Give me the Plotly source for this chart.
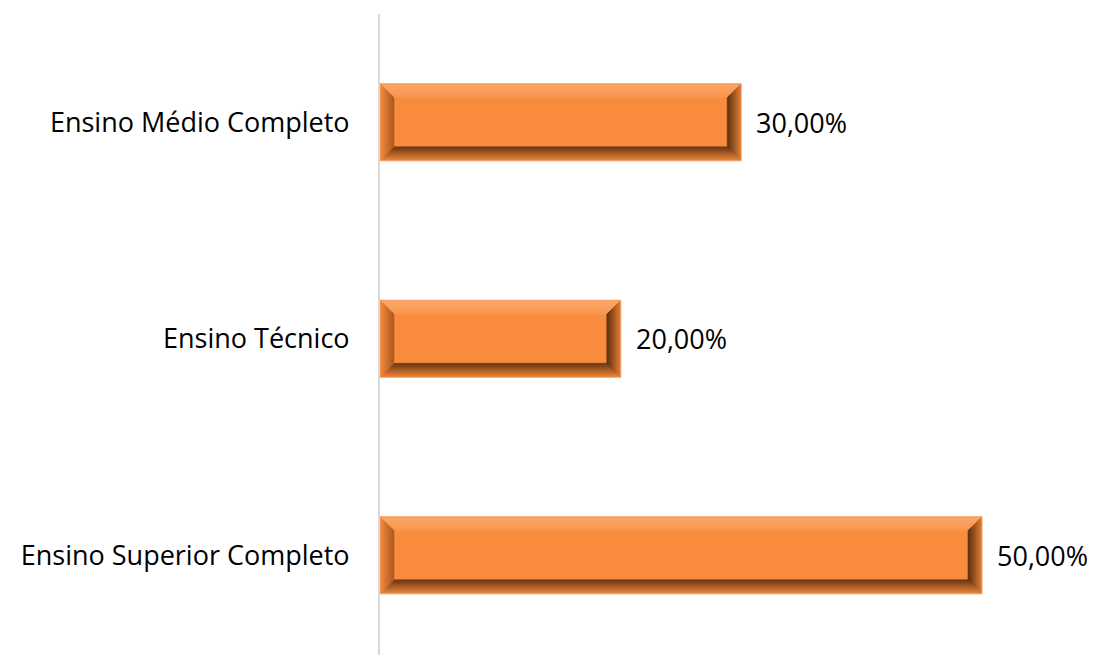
import plotly.graph_objects as go

# ---- data ----
categories = ["Ensino Médio Completo", "Ensino Técnico", "Ensino Superior Completo"]
values = [30.0, 20.0, 50.0]
value_labels = ["30,00%", "20,00%", "50,00%"]

# ---- layout constants (page body has an 8px margin) ----
W, H = 1089, 647
ML, MR, MT, MB = 372, 9, 6, 0
plotW = W - ML - MR
plotH = H - MT - MB
XMAX = plotW / 12.04
Y_RANGE = [-0.5 + plotH / 216.5, -0.5]
BAR_W = 0.356

kx = XMAX / plotW                         # data units per pixel (x)
ky = (Y_RANGE[0] - Y_RANGE[1]) / plotH    # data units per pixel (y)

FONT = "Open Sans, sans-serif"
FSIZE = 27
BASE = "#F98B3D"
BORDER = "#F6A468"
BEVEL = 14
STEPS = 7
side_colors = {
    "top": ("#FBAA6A", "#F99550"),
    "left": ("#F3883C", "#A9591F"),
    "bottom": ("#E98539", "#6A3512"),
    "right": ("#E07C35", "#5A2E0F"),
}


def hex2rgb(h):
    h = h.lstrip("#")
    return tuple(int(h[i:i + 2], 16) for i in (0, 2, 4))


def mix(c1, c2, t):
    a, b = hex2rgb(c1), hex2rgb(c2)
    return "rgb(%d,%d,%d)" % tuple(round(a[i] + (b[i] - a[i]) * t) for i in range(3))


ypos = list(range(len(categories)))

fig = go.Figure()
fig.add_trace(go.Bar(
    y=ypos, x=values, orientation="h", width=BAR_W,
    marker=dict(color=BASE, line=dict(color=BORDER, width=1)),
    hoverinfo="skip", showlegend=False,
))

shapes = []
for yi, v in zip(ypos, values):
    L, R = 0.0, v
    T, B = yi - BAR_W / 2, yi + BAR_W / 2

    def strip(side, a, b):
        ax, bx = a * kx, b * kx
        ay, by = a * ky, b * ky
        if side == "top":
            pts = [(L + ax, T + ay), (R - ax, T + ay), (R - bx, T + by), (L + bx, T + by)]
        elif side == "bottom":
            pts = [(L + ax, B - ay), (R - ax, B - ay), (R - bx, B - by), (L + bx, B - by)]
        elif side == "left":
            pts = [(L + ax, T + ay), (L + bx, T + by), (L + bx, B - by), (L + ax, B - ay)]
        else:
            pts = [(R - ax, T + ay), (R - bx, T + by), (R - bx, B - by), (R - ax, B - ay)]
        return "M " + " L ".join("%.5f,%.5f" % p for p in pts) + " Z"

    for side in ["top", "bottom", "left", "right"]:
        c_out, c_in = side_colors[side]
        for s in range(STEPS):
            a = 1 + (BEVEL - 1) * s / STEPS
            b = 1 + (BEVEL - 1) * (s + 1) / STEPS
            col = mix(c_out, c_in, (s + 0.5) / STEPS)
            shapes.append(dict(type="path", xref="x", yref="y", path=strip(side, a, b),
                               fillcolor=col, line=dict(color=col, width=0.6)))

annotations = []
for yi, v, lab in zip(ypos, values, value_labels):
    annotations.append(dict(x=v, y=yi, xref="x", yref="y", text=lab, showarrow=False,
                            xanchor="left", yanchor="middle", xshift=13,
                            font=dict(family=FONT, size=FSIZE, color="#000000")))

fig.update_layout(
    width=W, height=H,
    margin=dict(l=ML, r=MR, t=MT, b=MB, pad=0),
    paper_bgcolor="white", plot_bgcolor="white",
    shapes=shapes, annotations=annotations,
    xaxis=dict(range=[0, XMAX], showgrid=False, zeroline=False, showticklabels=False,
               showline=False, ticks=""),
    yaxis=dict(range=Y_RANGE, tickvals=ypos, ticktext=categories, showgrid=False,
               zeroline=False, showline=True, linecolor="#D9D9D9", linewidth=2,
               ticks="", ticklabelstandoff=23,
               tickfont=dict(family=FONT, size=FSIZE, color="#000000")),
    bargap=0.6,
)

fig.write_html("out.html")
